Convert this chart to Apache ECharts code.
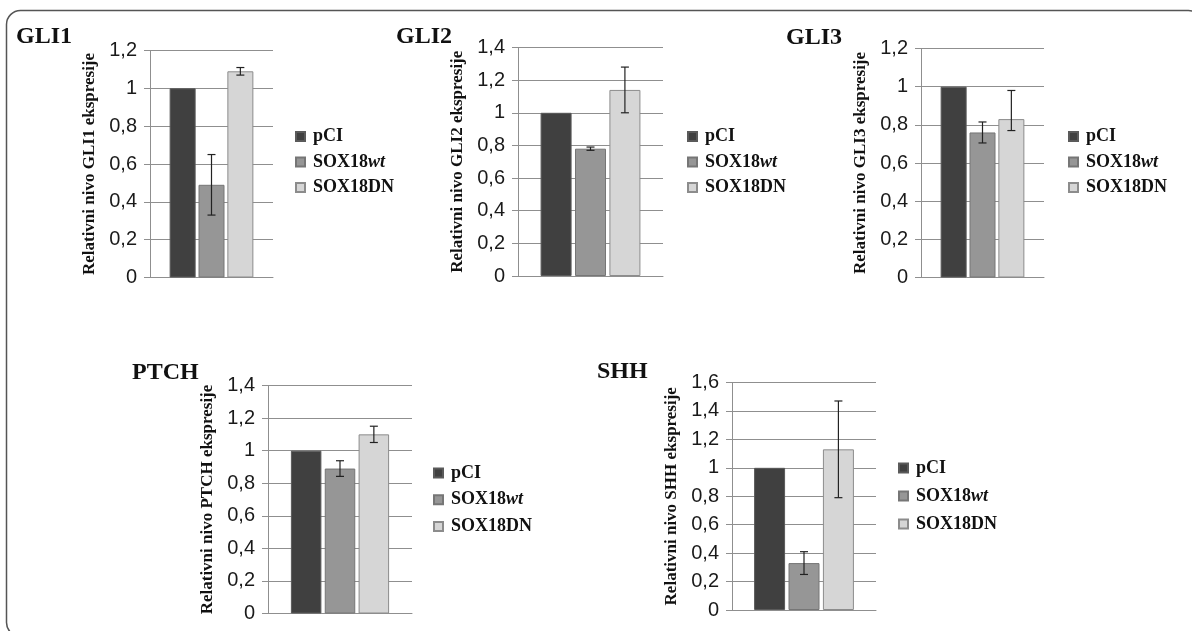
<!DOCTYPE html>
<html>
<head>
<meta charset="utf-8">
<script src="https://cdn.jsdelivr.net/npm/echarts@6/dist/echarts.min.js"></script>
<style>
html,body{margin:0;padding:0;background:#fff;}
#chart{width:1192px;height:631px;}
</style>
</head>
<body>
<div id="chart"></div>
<script>
// ---- data ----
const panelTitles = ['GLI1', 'GLI2', 'GLI3', 'PTCH', 'SHH'];
const groupNames = ['pCI', 'SOX18wt', 'SOX18DN'];
const gli1Values = [1, 0.49, 1.09];
const gli1ErrLow = [0, 0.16, 0.02];
const gli1ErrHigh = [0, 0.16, 0.02];
const gli2Values = [1, 0.78, 1.14];
const gli2ErrLow = [0, 0.01, 0.14];
const gli2ErrHigh = [0, 0.01, 0.14];
const gli3Values = [1, 0.76, 0.83];
const gli3ErrLow = [0, 0.055, 0.06];
const gli3ErrHigh = [0, 0.055, 0.15];
const ptchValues = [1, 0.89, 1.10];
const ptchErrLow = [0, 0.048, 0.05];
const ptchErrHigh = [0, 0.048, 0.05];
const shhValues = [1, 0.33, 1.13];
const shhErrLow = [0, 0.08, 0.34];
const shhErrHigh = [0, 0.08, 0.34];
const yAxisMax = [1.2, 1.4, 1.2, 1.4, 1.6];
const yTickStep = 0.2;

const allValues = [gli1Values, gli2Values, gli3Values, ptchValues, shhValues];
const allErrLow = [gli1ErrLow, gli2ErrLow, gli3ErrLow, ptchErrLow, shhErrLow];
const allErrHigh = [gli1ErrHigh, gli2ErrHigh, gli3ErrHigh, ptchErrHigh, shhErrHigh];

// ---- layout / style ----
const grids = [
  {left: 150, top: 50.5, width: 123, height: 227},
  {left: 518, top: 47.5, width: 145, height: 228.5},
  {left: 921, top: 48.5, width: 123, height: 229},
  {left: 268, top: 385.5, width: 144, height: 228},
  {left: 732, top: 382.5, width: 144, height: 227.5}
];
const barWidths = [26, 31, 26, 30.5, 31];
const barGapRatio = 0.11;
const titlePos = [
  {left: 16, top: 25}, {left: 396, top: 25}, {left: 786, top: 26},
  {left: 132, top: 361}, {left: 597, top: 360}
];
const legendPos = [
  {left: 295, top: 127.5, gap: 7.5}, {left: 687, top: 127.5, gap: 7.5}, {left: 1068, top: 127.5, gap: 7.5},
  {left: 433, top: 464, gap: 8.7}, {left: 898, top: 459, gap: 10}
];
const barColors = ['#404040', '#969696', '#d6d6d6'];
const barBorders = ['#5a5a5a', '#767676', '#8c8c8c'];
const gridColor = '#8f8f8f';
const serif = "'Liberation Serif','Times New Roman',serif";
const sans = "'Liberation Sans',Arial,sans-serif";

const chart = echarts.init(document.getElementById('chart'));

const option = {
  animation: false,
  backgroundColor: '#fff',
  title: panelTitles.map((t, i) => ({
    text: t, left: titlePos[i].left, top: titlePos[i].top, padding: 0,
    textStyle: {fontFamily: serif, fontWeight: 'bold', fontSize: 24, color: '#111'}
  })),
  legend: legendPos.map(p => ({
    data: groupNames,
    orient: 'vertical', left: p.left, top: p.top, padding: 0,
    itemWidth: 9, itemHeight: 9, itemGap: p.gap,
    icon: 'rect', selectedMode: false,
    formatter: n => n.replace(/wt$/, '{i|wt}'),
    textStyle: {
      fontFamily: serif, fontWeight: 'bold', fontSize: 18, color: '#111', padding: [0, 0, 0, 3],
      rich: {i: {fontFamily: serif, fontWeight: 'bold', fontStyle: 'italic', fontSize: 18, color: '#111'}}
    }
  })),
  grid: grids.map(g => Object.assign({containLabel: false}, g)),
  xAxis: grids.map((g, i) => ({
    type: 'category', gridIndex: i, data: [''],
    axisLine: {show: true, lineStyle: {color: gridColor, width: 1}},
    axisTick: {show: false}, axisLabel: {show: false}, splitLine: {show: false}
  })),
  yAxis: grids.map((g, i) => ({
    type: 'value', gridIndex: i, min: 0, max: yAxisMax[i], interval: yTickStep,
    name: 'Relativni nivo ' + panelTitles[i] + ' ekspresije',
    nameLocation: 'middle', nameGap: 52,
    nameTextStyle: {fontFamily: serif, fontWeight: 'bold', fontSize: 17, color: '#111'},
    axisLine: {show: true, lineStyle: {color: gridColor, width: 1}},
    axisTick: {show: true, length: 6, lineStyle: {color: gridColor, width: 1}},
    axisLabel: {
      margin: 13, fontFamily: sans, fontSize: 20, color: '#1a1a1a',
      formatter: v => String(+v.toFixed(1)).replace('.', ',')
    },
    splitLine: {show: true, lineStyle: {color: gridColor, width: 1}}
  })),
  series: [],
  graphic: [{
    type: 'rect', silent: true, z: -10,
    shape: {x: 6.5, y: 10.5, width: 1196, height: 626, r: 14},
    style: {fill: 'none', stroke: '#555', lineWidth: 1.5}
  }]
};

grids.forEach((g, gi) => {
  groupNames.forEach((name, si) => {
    option.series.push({
      type: 'bar', name: name, xAxisIndex: gi, yAxisIndex: gi,
      data: [allValues[gi][si]],
      barWidth: barWidths[gi], barGap: (barGapRatio * 100) + '%',
      itemStyle: {color: barColors[si], borderColor: barBorders[si], borderWidth: 1},
      emphasis: {disabled: true}
    });
  });
  const errData = [];
  groupNames.forEach((name, si) => {
    if (allErrHigh[gi][si] > 0 || allErrLow[gi][si] > 0) {
      errData.push([0, allValues[gi][si], allErrLow[gi][si], allErrHigh[gi][si], si]);
    }
  });
  const bw = barWidths[gi];
  option.series.push({
    type: 'custom', xAxisIndex: gi, yAxisIndex: gi, z: 10, silent: true,
    encode: {x: 0, y: 1},
    data: errData,
    renderItem: function (params, api) {
      const v = api.value(1), lo = api.value(2), hi = api.value(3), idx = api.value(4);
      const c = api.coord([0, v]);
      const x = c[0] + (idx - 1) * bw * (1 + barGapRatio);
      const yt = api.coord([0, v + hi])[1];
      const yb = api.coord([0, v - lo])[1];
      const cap = 4;
      const st = {stroke: '#222', lineWidth: 1.2};
      return {
        type: 'group',
        children: [
          {type: 'line', shape: {x1: x, y1: yt, x2: x, y2: yb}, style: st},
          {type: 'line', shape: {x1: x - cap, y1: yt, x2: x + cap, y2: yt}, style: st},
          {type: 'line', shape: {x1: x - cap, y1: yb, x2: x + cap, y2: yb}, style: st}
        ]
      };
    }
  });
});

chart.setOption(option);
</script>
</body>
</html>
